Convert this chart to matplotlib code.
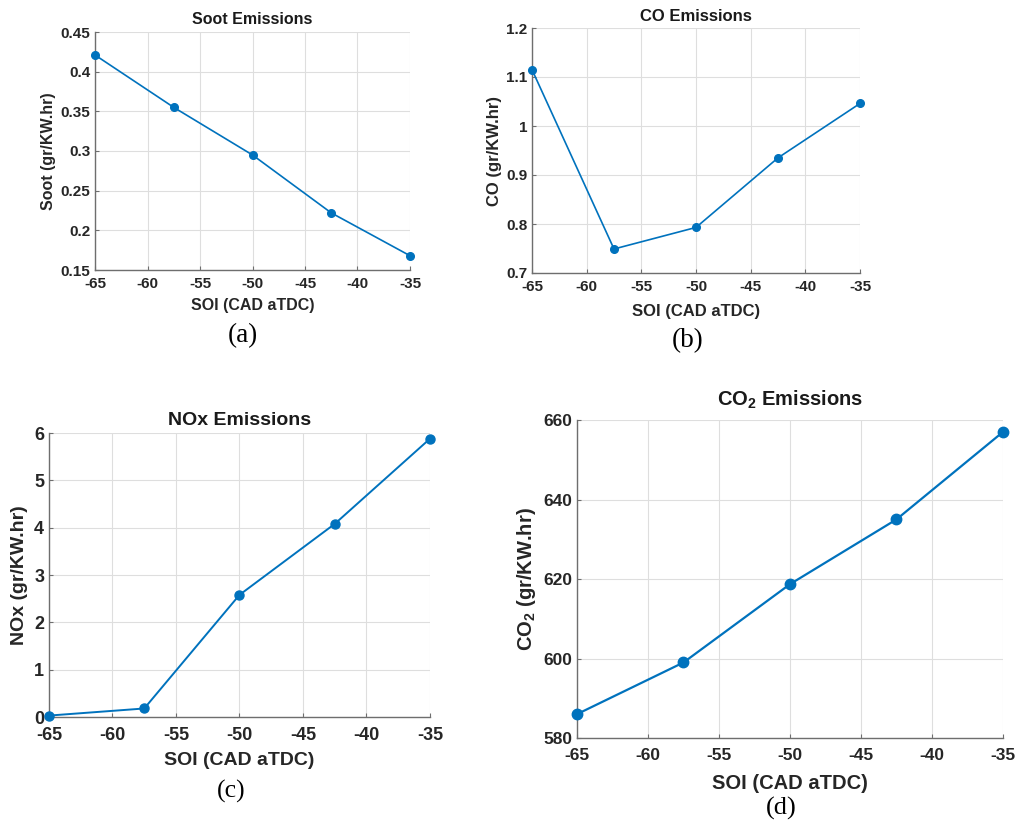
import matplotlib
matplotlib.use("Agg")
import matplotlib.pyplot as plt

plt.rcParams["font.family"] = ["Liberation Sans", "DejaVu Sans"]
plt.rcParams["font.weight"] = "bold"
plt.rcParams["mathtext.fontset"] = "custom"
plt.rcParams["mathtext.rm"] = "Liberation Sans:bold"
plt.rcParams["mathtext.default"] = "regular"

# data
soi = [-65, -57.5, -50, -42.5, -35]
soot = [0.421, 0.355, 0.295, 0.222, 0.168]
co = [1.115, 0.749, 0.793, 0.935, 1.046]
nox = [0.03, 0.18, 2.58, 4.08, 5.88]
co2 = [586.0, 599.0, 618.7, 635.0, 657.0]

xticks = [-65, -60, -55, -50, -45, -40, -35]

BLUE = "#0072BD"
W, H = 1020, 822

fig = plt.figure(figsize=(W / 100, H / 100), dpi=100)


def px_axes(x0, y0, x1, y1):
    return fig.add_axes([x0 / W, 1 - y1 / H, (x1 - x0) / W, (y1 - y0) / H])


def style(ax, yticks, ylim, fs, xpad):
    ax.set_xlim(-65, -35)
    ax.set_ylim(*ylim)
    ax.set_xticks(xticks)
    ax.set_yticks(yticks)
    ax.grid(True, color="#dedede", linewidth=0.8)
    ax.set_axisbelow(True)
    for s in ("top", "right"):
        ax.spines[s].set_visible(False)
    for s in ("left", "bottom"):
        ax.spines[s].set_color("#6e6e6e")
        ax.spines[s].set_linewidth(1.0)
    ax.tick_params(direction="in", length=3, color="#6e6e6e",
                   labelsize=fs, labelcolor="#262626")
    ax.tick_params(axis="x", pad=xpad)
    ax.tick_params(axis="y", pad=3.5)


panels = [
    dict(box=(95, 32, 410, 270), y=soot, title="Soot Emissions",
         ylabel="Soot (gr/KW.hr)",
         yticks=[0.15, 0.2, 0.25, 0.3, 0.35, 0.4, 0.45],
         yfmt=["0.15", "0.2", "0.25", "0.3", "0.35", "0.4", "0.45"],
         ylim=(0.15, 0.45), fs=11, tfs=11.5, lfs=11.5, lw=1.2, ms=5.5,
         xpad=5, tpad=6, lpad=3, xlpad=5,
         tag="(a)", tagpos=(243, 336), tagfs=19.5),
    dict(box=(532, 28, 860, 273), y=co, title="CO Emissions",
         ylabel="CO (gr/KW.hr)",
         yticks=[0.7, 0.8, 0.9, 1.0, 1.1, 1.2],
         yfmt=["0.7", "0.8", "0.9", "1", "1.1", "1.2"],
         ylim=(0.7, 1.2), fs=11, tfs=12, lfs=12, lw=1.2, ms=5.5,
         xpad=5, tpad=5, lpad=3, xlpad=7,
         tag="(b)", tagpos=(688, 341), tagfs=19.5),
    dict(box=(49, 433, 430, 717), y=nox, title="NOx Emissions",
         ylabel="NOx (gr/KW.hr)",
         yticks=[0, 1, 2, 3, 4, 5, 6],
         yfmt=["0", "1", "2", "3", "4", "5", "6"],
         ylim=(0, 6), fs=13, tfs=14, lfs=14, lw=1.4, ms=6.5,
         xpad=7, tpad=6, lpad=4, xlpad=6,
         tag="(c)", tagpos=(231, 791), tagfs=18.5),
    dict(box=(577, 420, 1003, 738), y=co2, title="CO$_2$ Emissions",
         ylabel="CO$_2$ (gr/KW.hr)",
         yticks=[580, 600, 620, 640, 660],
         yfmt=["580", "600", "620", "640", "660"],
         ylim=(580, 660), fs=12.5, tfs=14.5, lfs=14.5, lw=1.6, ms=7.5,
         xpad=7, tpad=10, lpad=4, xlpad=8,
         tag="(d)", tagpos=(781, 808), tagfs=19),
]

for p in panels:
    ax = px_axes(*p["box"])
    ax.plot(soi, p["y"], "-o", color=BLUE, linewidth=p["lw"],
            markersize=p["ms"], clip_on=False, zorder=3)
    style(ax, p["yticks"], p["ylim"], p["fs"], p["xpad"])
    ax.set_yticklabels(p["yfmt"], fontweight="bold")
    ax.set_xticklabels([str(t) for t in xticks], fontweight="bold")
    ax.set_title(p["title"], fontsize=p["tfs"], fontweight="bold",
                 color="#1a1a1a", pad=p["tpad"])
    ax.set_xlabel("SOI (CAD aTDC)", fontsize=p["lfs"], fontweight="bold",
                  color="#262626", labelpad=p["xlpad"])
    ax.set_ylabel(p["ylabel"], fontsize=p["lfs"], fontweight="bold",
                  color="#262626", labelpad=p["lpad"])
    fig.text(p["tagpos"][0] / W, 1 - p["tagpos"][1] / H, p["tag"],
             family="Liberation Serif", fontweight="normal",
             fontsize=p["tagfs"], ha="center", va="center", color="black")

fig.savefig("out.png", dpi=100)
